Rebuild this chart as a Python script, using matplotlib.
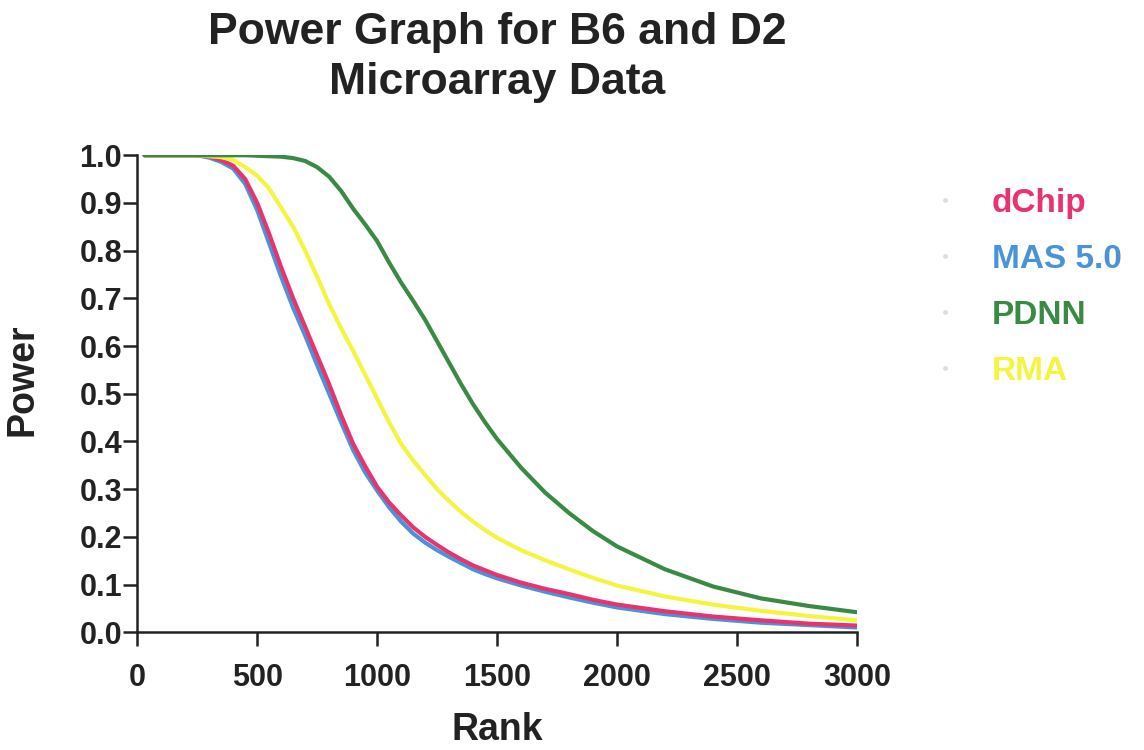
import matplotlib
matplotlib.use("Agg")
import matplotlib.pyplot as plt
from matplotlib.lines import Line2D

plt.rcParams['font.family'] = ['Liberation Sans', 'DejaVu Sans']

rank = [30, 100, 200, 250, 300, 350, 400, 450, 500, 550, 600, 650, 700, 750,
        800, 850, 900, 950, 1000, 1050, 1100, 1150, 1200, 1250, 1300, 1350,
        1400, 1450, 1500, 1600, 1700, 1800, 1900, 2000, 2200, 2400, 2600,
        2800, 3000]
dchip = [1.0, 1.0, 1.0, 1.0, 0.997, 0.99, 0.978, 0.95, 0.9, 0.835, 0.765,
         0.7, 0.64, 0.58, 0.52, 0.455, 0.395, 0.348, 0.305, 0.272, 0.245,
         0.22, 0.2, 0.183, 0.167, 0.153, 0.14, 0.13, 0.12, 0.104, 0.091,
         0.08, 0.068, 0.058, 0.044, 0.033, 0.025, 0.018, 0.014]
mas5 = [1.0, 1.0, 1.0, 1.0, 0.995, 0.986, 0.972, 0.94, 0.885, 0.815, 0.745,
        0.68, 0.622, 0.56, 0.5, 0.44, 0.382, 0.335, 0.297, 0.262, 0.232,
        0.207, 0.188, 0.172, 0.158, 0.145, 0.132, 0.122, 0.113, 0.098,
        0.085, 0.073, 0.062, 0.052, 0.038, 0.028, 0.02, 0.015, 0.01]
pdnn = [1.0, 1.0, 1.0, 1.0, 1.0, 1.0, 1.0, 1.0, 0.999, 0.998, 0.997, 0.994,
        0.988, 0.975, 0.955, 0.925, 0.888, 0.855, 0.82, 0.775, 0.733, 0.695,
        0.655, 0.61, 0.565, 0.52, 0.478, 0.44, 0.405, 0.345, 0.293, 0.25,
        0.212, 0.18, 0.132, 0.096, 0.071, 0.055, 0.042]
rma = [1.0, 1.0, 1.0, 1.0, 0.998, 0.996, 0.99, 0.975, 0.957, 0.93, 0.89,
       0.85, 0.8, 0.745, 0.688, 0.637, 0.59, 0.54, 0.49, 0.44, 0.395, 0.36,
       0.33, 0.3, 0.275, 0.252, 0.232, 0.214, 0.198, 0.172, 0.151, 0.132,
       0.114, 0.098, 0.075, 0.058, 0.045, 0.034, 0.025]

series = [("dChip", dchip, "#E8336E"),
          ("MAS 5.0", mas5, "#4A93D6"),
          ("PDNN", pdnn, "#3A8A45"),
          ("RMA", rma, "#F4F540")]

fig = plt.figure(figsize=(11.44, 7.5), dpi=100)
ax = fig.add_axes([0.12, 0.157, 0.629, 0.636])

# draw order: blue under pink
order = [1, 0, 3, 2]
for i in order:
    name, vals, col = series[i]
    ax.plot(rank, vals, color=col, lw=3.0, solid_capstyle='round',
            solid_joinstyle='round')

ax.set_xlim(0, 3000)
ax.set_ylim(0, 1.0)
ax.set_xticks([0, 500, 1000, 1500, 2000, 2500, 3000])
ax.set_yticks([i / 10 for i in range(11)])
ax.set_yticklabels([f"{i/10:.1f}" for i in range(11)])
for s in ['top', 'right']:
    ax.spines[s].set_visible(False)
for s in ['left', 'bottom']:
    ax.spines[s].set_linewidth(1.8)
    ax.spines[s].set_color('#222222')
ax.tick_params(direction='out', length=10, width=1.8, colors='#222222',
               labelsize=22)
ax.tick_params(axis='y', pad=1)
ax.tick_params(axis='x', pad=12)
for lab in ax.get_xticklabels() + ax.get_yticklabels():
    lab.set_fontweight('bold')

ax.set_xlabel("Rank", fontsize=27, fontweight='bold', color='#222222')
ax.xaxis.set_label_coords(0.5, -0.168)
ax.set_ylabel("Power", fontsize=27, fontweight='bold', color='#222222')
ax.yaxis.set_label_coords(-0.135, 0.53)
ax.set_title("Power Graph for B6 and D2\nMicroarray Data", fontsize=32,
             fontweight='bold', pad=44, color='#222222', linespacing=1.3)

handles = [Line2D([0], [0], marker='.', color='none', markerfacecolor='#dddddd',
                  markeredgecolor='#dddddd', markersize=5) for _ in series]
leg = fig.legend(handles, [s[0] for s in series], loc='upper left',
                 bbox_to_anchor=(935 / 1144, 1 - 188 / 750), frameon=False,
                 handlelength=0.6, handletextpad=1.1, labelspacing=0.75,
                 borderpad=0, borderaxespad=0,
                 prop={'weight': 'bold', 'size': 24})
for txt, s in zip(leg.get_texts(), series):
    txt.set_color(s[2])

fig.savefig("out.png", dpi=100)
